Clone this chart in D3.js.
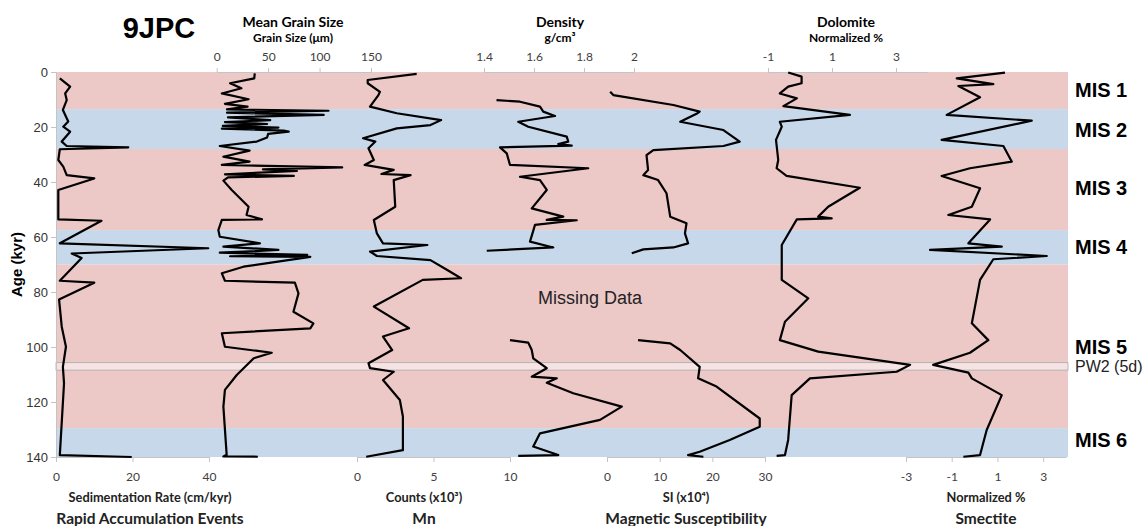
<!DOCTYPE html>
<html>
<head>
<meta charset="utf-8">
<script src="https://cdn.jsdelivr.net/npm/d3@7"></script>
<style>
  body { margin: 0; background: #fff; }
  .tick text { font-family: Lato, sans-serif; font-size: 12px; fill: #404040; }
  .yaxis .tick text { font-family: "Liberation Sans", Arial, sans-serif; font-size: 13px; fill: #333; }
  .domain, .tick line { stroke: #c4c4c4; }
</style>
</head>
<body>
<script>
// ages in kyr, values per proxy
const ageTicks = [0, 20, 40, 60, 80, 100, 120, 140];

// marine isotope stages [from, to]
const misStages = [[0, 13.5], [13.5, 28], [28, 57.5], [57.5, 70], [70, 129.5], [129.5, 140]];
const misNames = ['MIS 1', 'MIS 2', 'MIS 3', 'MIS 4', 'MIS 5', 'MIS 6'];
const misLabelAge = [6.5, 21, 42.2, 63.6, 100, 133.8];
const pw2 = [105.7, 108.4];

const sedRate = [[2.3,1],[5.3,3.7],[7.8,2.4],[10.2,2.8],[13.8,1.8],[18,3.2],[19.9,1.9],[21.7,3.7],[25.3,1.5],[26.9,2.8],[27.4,18.9],[28.1,1],[32,0.6],[34.4,1.9],[37.5,2.8],[38.7,10],[42.9,0.6],[53.6,0.6],[54.1,11.9],[62.3,1],[64.1,39.8],[66,4.1],[67.6,6.7],[75.9,1],[76.6,10],[82.7,0.8],[92.6,1.5],[99.9,2.6],[107.2,1.8],[113.2,2.1],[139.3,1],[140,19.8]];

const grainSize = [[0.5,37],[2.3,36.5],[4.1,13],[5.9,24],[7.8,5],[9.9,31],[11.6,8],[12.6,30],[13.6,10],[14.1,108.7],[14.8,10],[15.6,104],[16.5,11],[17.5,52],[18.2,8],[18.9,49],[19.6,6],[20.2,60],[20.6,5],[21.3,65],[21.7,70],[22.5,50],[23.8,49],[25.3,39],[26.9,3],[28.6,32],[30.8,6.5],[32.6,32],[33.8,5],[34.7,122],[35.4,45],[36,78],[37.2,8],[37.8,75],[38.3,11],[39.5,6.5],[42.9,14.6],[49,31],[52,29],[53.6,44],[53.8,5],[57.5,1.6],[59.9,3],[62.3,42],[63.5,6.5],[64.7,60],[65.7,3],[66.5,88],[67,13],[67.2,91],[70.8,26],[73.2,5],[75.9,8],[76.6,76],[80.5,79.5],[87.2,74.6],[91.4,94],[93.2,91],[95,5],[99.9,8],[102.1,53.5],[104.1,36],[110.2,19.5],[115.6,8],[121.7,6.5],[139.2,9.7],[139.8,6.5],[139.9,40]];

const mnCounts = [[0.7,3.9],[2.9,0.7],[4.1,0.7],[7.2,1.5],[8.4,1.4],[12.6,0.85],[15,2.6],[17.5,5.5],[19.3,4.8],[20.5,2.6],[24.1,0.4],[25.3,1.2],[27.7,0.75],[32,1.1],[33.8,0.5],[35.6,2.4],[37.1,1.6],[37.5,3.5],[39.3,2.4],[49,2.5],[53.8,1.1],[58.7,1.3],[62.3,1.7],[62.9,4.6],[65.3,0.85],[66.9,1.3],[68.4,4.8],[72,5.9],[75,6.8],[75.6,4.3],[85.3,1.1],[93.2,3.4],[96.2,1.7],[101.1,2.3],[105.9,0.75],[107.7,0.85],[109,2.4],[112,1.7],[119.3,2.8],[125.3,3],[137.5,3],[139.9,0.6]];

const density = [[10.2,1.45],[10.8,1.544],[12.6,1.624],[14.4,1.637],[16,1.684],[18.1,1.537],[19.9,1.577],[23.5,1.731],[25.3,1.737],[26.2,1.697],[26.8,1.751],[27.4,1.464],[29.6,1.491],[33.8,1.504],[35,1.817],[38.1,1.544],[39.3,1.624],[42.9,1.651],[49.6,1.591],[52.6,1.717],[53.8,1.651],[53.9,1.771],[55.6,1.604],[61.7,1.584],[63.8,1.677],[65,1.411],[80,null],[97.5,1.504],[98.4,1.577],[101.1,1.591],[104.1,1.597],[107.7,1.651],[110.8,1.591],[111.4,1.691],[113,1.651],[116.8,1.757],[121.7,1.951],[126.5,1.864],[131.4,1.624],[136.2,1.597],[139.3,1.697],[139.6,1.537]];

const magSus = [[7.2,0.6],[8.4,1.2],[12,12.6],[14.4,17.6],[15.2,17],[18.1,13.9],[21.1,22.1],[25.3,25.2],[26.9,22.1],[28.4,8.8],[30.2,7.5],[35.6,7.8],[37.5,6.9],[39.3,9.7],[44.1,11.3],[52.6,12],[55,15.1],[58.7,14.8],[62.3,15.4],[63.8,12.6],[64.5,6.9],[65.9,4.7],[80,null],[97.5,5.9],[98.7,12],[101.1,13.9],[107.2,17.6],[111.4,17.3],[114.4,20.8],[126,29],[129,29],[133.8,23.3],[138.1,17.6],[139.3,15.4],[139.9,18.3]];

const dolomite = [[0.2,-0.37],[1.7,0.05],[4.1,0.05],[5.3,-0.37],[7.8,-0.63],[9.6,-0.1],[12.4,-0.52],[15.6,1.56],[18.1,-0.63],[19.9,-0.57],[24.7,-0.75],[32,-0.68],[35,-0.73],[37.8,-0.42],[42.1,1.87],[49,0.88],[52.6,0.57],[53.2,0.99],[53.6,-0.1],[62.9,-0.57],[75.6,-0.57],[82.3,0.26],[90.8,-0.47],[97.5,-0.63],[101.7,0.57],[106.5,3.44],[109,3.02],[111.4,0.31],[117.5,-0.26],[133.8,-0.37],[139.3,-0.47],[139.6,-0.73]];

const smectite = [[0.2,1.33],[2.3,-0.78],[4.4,0.82],[5.1,-0.71],[9.2,0.24],[15.6,-1.22],[17.7,2.5],[24.7,-1.44],[26.9,1.26],[32.6,1.63],[35,-0.2],[37.8,-1.44],[42.3,0.24],[49,-0.12],[52,-1.15],[53.6,0.68],[62.3,-0.27],[63.5,1.19],[64.7,-1.95],[66.9,3.16],[68.1,0.82],[75.6,0.24],[91.4,-0.12],[97.5,0.6],[102.1,-0.2],[106.5,-1.81],[109.3,-0.27],[111.4,-0.12],[117.5,1.19],[130.2,0.53],[139.3,0.24],[139.9,-0.49]];

const width = 1148;
const height = 526;
const plotLeft = 56, plotRight = 1068, plotTop = 72, plotBottom = 457;

const svg = d3.select('body').append('svg')
  .attr('width', width)
  .attr('height', height)

const y = d3.scaleLinear().domain([0, 140]).range([plotTop, plotBottom]);

// stage bands
svg.selectAll('.band')
  .data(misStages)
  .enter().append('rect')
  .attr('x', plotLeft)
  .attr('width', plotRight - plotLeft)
  .attr('y', d => y(d[0]))
  .attr('height', d => y(d[1]) - y(d[0]))
  .attr('fill', (d, i) => i % 2 ? '#c6d8ea' : '#ecc8c7')

svg.append('rect')
  .attr('x', plotLeft)
  .attr('width', plotRight - plotLeft)
  .attr('y', y(pw2[0]))
  .attr('height', y(pw2[1]) - y(pw2[0]))
  .attr('fill', '#f6e3e3')
  .attr('stroke', '#aaa')
  .attr('stroke-width', 0.8)

// y axis
svg.append('g')
  .attr('class', 'yaxis')
  .attr('transform', `translate(${plotLeft},0)`)
  .call(d3.axisLeft(y).tickValues(ageTicks).tickSize(5).tickSizeOuter(0).tickPadding(3))

svg.append('text')
  .attr('transform', `translate(22,${y(70)}) rotate(-90)`)
  .attr('text-anchor', 'middle')
  .style('font', 'bold 15px "Liberation Sans", Arial, sans-serif')
  .text('Age (kyr)')

const panels = [
  { data: sedRate, domain: [0, 40], range: [56, 209], side: 'bottom', ticks: [0, 20, 40],
    titles: ['Sedimentation Rate (cm/kyr)', 'Rapid Accumulation Events'], cx: 150 },
  { data: grainSize, domain: [0, 150], range: [216.7, 371], side: 'top', ticks: [0, 50, 100, 150],
    titles: ['Mean Grain Size', 'Grain Size (μm)'], cx: 293 },
  { data: mnCounts, domain: [0, 10], range: [357, 510], side: 'bottom', ticks: [0, 5, 10],
    titles: ['Counts (x10³)', 'Mn'], cx: 424 },
  { data: density, domain: [1.4, 2], range: [484, 634], side: 'top', ticks: [1.4, 1.6, 1.8, 2],
    titles: ['Density', 'g/cm³'], cx: 560 },
  { data: magSus, domain: [0, 30], range: [607, 765], side: 'bottom', ticks: [0, 10, 20, 30],
    titles: ['SI (x10⁴)', 'Magnetic Susceptibility'], cx: 686 },
  { data: dolomite, domain: [-1, 4], range: [768, 928], side: 'top', ticks: [-1, 1, 3],
    titles: ['Dolomite', 'Normalized %'], cx: 846 },
  { data: smectite, domain: [-3, 4], range: [906, 1066], side: 'bottom', ticks: [-3, -1, 1, 3],
    titles: ['Normalized %', 'Smectite'], cx: 986 }
];

panels.forEach(p => {
  const x = d3.scaleLinear().domain(p.domain).range(p.range);
  const fmt = d => String(d);
  if (p.side === 'top') {
    svg.append('g')
      .attr('transform', `translate(0,${plotTop})`)
      .call(d3.axisTop(x).tickValues(p.ticks).tickFormat(fmt).tickSize(4).tickSizeOuter(0).tickPadding(7))
    svg.append('text')
      .attr('x', p.cx).attr('y', 27)
      .attr('text-anchor', 'middle')
      .style('font', 'bold 14px Lato, sans-serif')
      .text(p.titles[0])
    svg.append('text')
      .attr('x', p.cx).attr('y', 42)
      .attr('text-anchor', 'middle')
      .style('font', 'bold 12px Lato, sans-serif')
      .text(p.titles[1])
  } else {
    svg.append('g')
      .attr('transform', `translate(0,${plotBottom})`)
      .call(d3.axisBottom(x).tickValues(p.ticks).tickFormat(fmt).tickSize(5).tickSizeOuter(0).tickPadding(10))
    svg.append('text')
      .attr('x', p.cx).attr('y', 502)
      .attr('text-anchor', 'middle')
      .style('font', 'bold 12.8px Lato, sans-serif')
      .style('fill', '#222')
      .text(p.titles[0])
    svg.append('text')
      .attr('x', p.cx).attr('y', 524)
      .attr('text-anchor', 'middle')
      .style('font', 'bold 15.5px Lato, sans-serif')
      .style('fill', '#222')
      .text(p.titles[1])
  }

  const line = d3.line()
    .defined(d => d[1] !== null)
    .x(d => x(d[1]))
    .y(d => y(d[0]))

  svg.append('path')
    .datum(p.data)
    .attr('d', line)
    .attr('fill', 'none')
    .attr('stroke', '#000')
    .attr('stroke-width', 2.2)
    .attr('stroke-linejoin', 'round')
})

// stage labels
svg.selectAll('.mis')
  .data(misNames)
  .enter().append('text')
  .attr('x', 1075)
  .attr('y', (d, i) => y(misLabelAge[i]))
  .attr('dy', '0.35em')
  .style('font', 'bold 20px "Liberation Sans", Arial, sans-serif')
  .text(d => d)

svg.append('text')
  .attr('x', 1075)
  .attr('y', y((pw2[0] + pw2[1]) / 2))
  .attr('dy', '0.35em')
  .style('font', '16px "Liberation Sans", Arial, sans-serif')
  .style('fill', '#222')
  .text('PW2 (5d)')

svg.append('text')
  .attr('x', 590)
  .attr('y', 304)
  .attr('text-anchor', 'middle')
  .style('font', '18px "Liberation Sans", Arial, sans-serif')
  .style('fill', '#222')
  .text('Missing Data')

svg.append('text')
  .attr('x', 159)
  .attr('y', 38)
  .attr('text-anchor', 'middle')
  .style('font', 'bold 29px "Liberation Sans", Arial, sans-serif')
  .text('9JPC')
</script>
</body>
</html>
